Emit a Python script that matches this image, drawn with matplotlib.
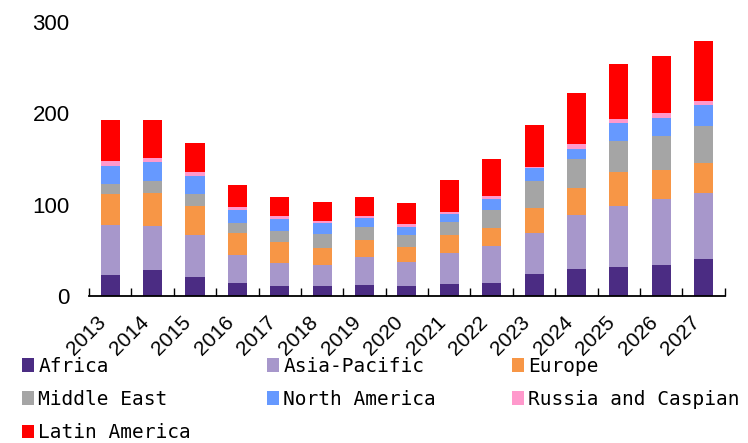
import matplotlib.pyplot as plt
import numpy as np

years = ["2013", "2014", "2015", "2016", "2017", "2018", "2019", "2020",
         "2021", "2022", "2023", "2024", "2025", "2026", "2027"]

africa = [22.7, 28.9, 21.2, 14.7, 11.4, 10.4, 12.5, 10.6, 13.1, 14.7, 23.8, 30.0, 31.8, 33.6, 40.2]
asia_pacific = [55.0, 48.2, 45.3, 29.9, 24.4, 23.6, 29.9, 27.1, 33.7, 40.5, 44.9, 58.7, 66.4, 72.3, 72.3]
europe = [34.0, 35.4, 31.7, 24.1, 23.3, 18.6, 19.4, 15.6, 19.7, 19.7, 28.1, 29.3, 37.3, 32.5, 33.2]
middle_east = [10.6, 13.1, 13.2, 10.9, 12.5, 15.2, 13.4, 13.2, 14.5, 19.0, 28.8, 32.0, 34.7, 36.5, 40.5]
north_america = [20.0, 20.8, 19.7, 14.3, 12.7, 11.9, 10.2, 9.5, 8.8, 12.0, 14.3, 11.4, 19.0, 20.1, 23.0]
russia_caspian = [5.5, 4.4, 4.7, 3.6, 3.3, 2.0, 2.7, 2.5, 2.2, 3.3, 1.8, 4.9, 4.7, 5.9, 4.1]
latin_america = [44.5, 41.6, 31.8, 24.5, 21.3, 21.5, 20.0, 23.8, 35.1, 40.5, 46.0, 55.8, 60.6, 61.6, 65.7]

series = [
    ("Africa", africa, "#4B2C83"),
    ("Asia-Pacific", asia_pacific, "#A797CB"),
    ("Europe", europe, "#F79646"),
    ("Middle East", middle_east, "#A5A5A5"),
    ("North America", north_america, "#6699FF"),
    ("Russia and Caspian", russia_caspian, "#FF99CC"),
    ("Latin America", latin_america, "#FF0000"),
]

fig = plt.figure(figsize=(7.48, 4.43), dpi=100)
ax = fig.add_axes([0.119, 0.332, 0.850, 0.618])

x = np.arange(len(years))
bottom = np.zeros(len(years))
handles = []
for name, vals, color in series:
    b = ax.bar(x, vals, width=0.45, bottom=bottom, color=color, label=name)
    handles.append(b)
    bottom += np.array(vals)

ax.set_xlim(-0.5, len(years) - 0.5)
ax.set_ylim(0, 300)
ax.set_yticks([0, 100, 200, 300])
ax.tick_params(axis="y", length=0, pad=14, labelsize=16)
for lab in ax.get_yticklabels():
    lab.set_family("Liberation Sans")

ax.set_xticks(x)
ax.set_xticklabels(years, rotation=45, ha="right", va="top", family="Liberation Sans", fontsize=15)
ax.tick_params(axis="x", which="major", length=0, pad=12)
ax.set_xticks(np.arange(-0.5, len(years)), minor=True)
ax.tick_params(axis="x", which="minor", direction="in", length=6, width=1, color="black")

for s in ["left", "right", "top"]:
    ax.spines[s].set_visible(False)
ax.spines["bottom"].set_linewidth(1.3)

# legend fills columns first, so reorder to read row by row
order = [0, 3, 6, 1, 4, 2, 5]
fig.legend(handles=[handles[i] for i in order], ncol=3, loc="upper left",
           bbox_to_anchor=(0.030, 0.195),
           frameon=False, prop={"family": "DejaVu Sans Mono", "size": 14},
           handlelength=0.62, handleheight=0.7, handletextpad=0.2,
           columnspacing=3.92, labelspacing=0.74, borderpad=0, borderaxespad=0)

fig.savefig("out.png", dpi=100)
